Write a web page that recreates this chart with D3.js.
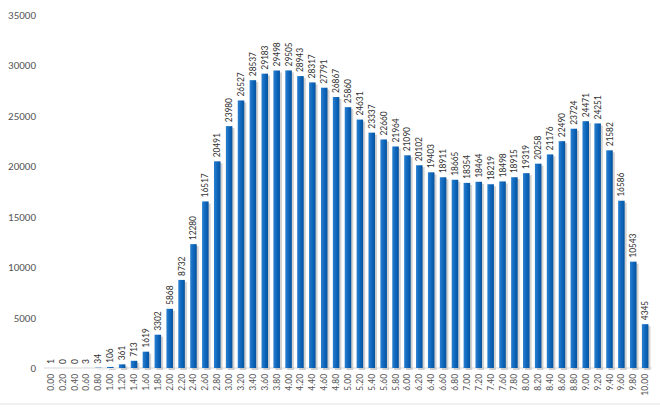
<!DOCTYPE html>
<html><head><meta charset="utf-8">
<script src="https://cdn.jsdelivr.net/npm/d3@7"></script>
<style>body{margin:0;background:#fff}text{font-family:Calibri,"Liberation Sans",sans-serif}</style>
</head><body>
<script>
const categories = d3.range(51).map(i => (i * 0.2).toFixed(2));
const values = [1,0,0,3,34,106,361,713,1619,3302,5868,8732,12280,16517,20491,23980,26527,28537,29183,29498,29505,28943,28317,27791,26867,25860,24631,23337,22660,21964,21090,20102,19403,18911,18665,18354,18464,18219,18498,18915,19319,20258,21176,22490,23724,24471,24251,21582,16586,10543,4345];
const yTicks = [0,5000,10000,15000,20000,25000,30000,35000];

const W = 660, H = 413;
const m = {l: 44, r: 8, t: 15, b: 45};
const svg = d3.select("body").append("svg").attr("width", W).attr("height", H);

const x = d3.scaleBand().domain(categories).range([m.l, W - m.r]).paddingInner(0.45).paddingOuter(0.3);
const y = d3.scaleLinear().domain([0, 35000]).range([H - m.b, m.t]);

const defs = svg.append("defs");
const g = defs.append("linearGradient").attr("id", "bg");
g.append("stop").attr("offset", "0").attr("stop-color", "#2a7fcf");
g.append("stop").attr("offset", "0.6").attr("stop-color", "#0b63b8");
g.append("stop").attr("offset", "1").attr("stop-color", "#08539d");

svg.append("g").selectAll("text").data(yTicks).enter().append("text")
  .attr("x", 36).attr("y", d => y(d) + 4).attr("text-anchor", "end")
  .attr("font-size", 11).attr("fill", "#555").text(d => d);

svg.append("line").attr("x1", m.l).attr("x2", W - m.r)
  .attr("y1", y(0)).attr("y2", y(0)).attr("stroke", "#d9d9d9");

// shadows
svg.append("g").selectAll("rect").data(values).enter().append("rect")
  .attr("x", (d, i) => x(categories[i]) + 2).attr("y", d => y(d) + 2)
  .attr("width", x.bandwidth()).attr("height", d => y(0) - y(d))
  .attr("fill", "#bdbdbd").attr("opacity", 0.7);

svg.append("g").selectAll("rect").data(values).enter().append("rect")
  .attr("x", (d, i) => x(categories[i])).attr("y", d => y(d))
  .attr("width", x.bandwidth()).attr("height", d => y(0) - y(d))
  .attr("fill", "url(#bg)");

svg.append("g").selectAll("text").data(values).enter().append("text")
  .attr("transform", (d, i) => `translate(${x(categories[i]) + x.bandwidth() / 2 + 3},${y(d) - 4}) rotate(-90)`)
  .attr("font-size", 9.5).attr("fill", "#333").text(d => d);

svg.append("g").selectAll("text").data(categories).enter().append("text")
  .attr("transform", c => `translate(${x(c) + x.bandwidth() / 2 + 3},${y(0) + 6}) rotate(-90)`)
  .attr("text-anchor", "end").attr("font-size", 9.5).attr("fill", "#555").text(c => c);

svg.append("line").attr("x1", 0).attr("x2", W).attr("y1", 404).attr("y2", 404).attr("stroke", "#e0e0e0");
</script>
</body></html>
